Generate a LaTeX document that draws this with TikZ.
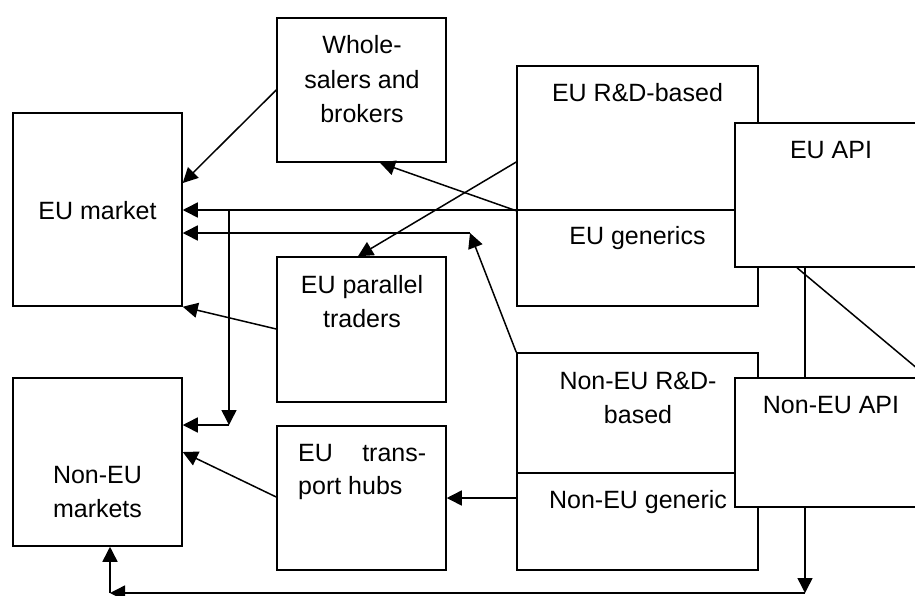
\documentclass[tikz,border=0pt]{standalone}
\usepackage{fontspec}
\setmainfont{Liberation Sans}
\usetikzlibrary{arrows.meta}
\begin{document}
\begin{tikzpicture}[x=1pt,y=-1pt,
  box/.style={draw, line width=1.5pt, inner sep=0pt, fill=white},
  lbl/.style={inner sep=0pt, anchor=base, font=\fontsize{25}{34}\selectfont},
  lblw/.style={lbl, anchor=base west},
  link/.style={line width=1.5pt},
  flow/.style={link, -{Triangle[length=15pt,width=15pt]}}]
\useasboundingbox (0,0) rectangle (915,595);
\clip (0,0) rectangle (915,595);

% markets and intermediaries
\node[box, minimum width=169pt, minimum height=193pt] (eumkt)  at (97.5,209.5) {};
\node[box, minimum width=169pt, minimum height=168pt] (nonmkt) at (97.5,462) {};
\node[box, minimum width=169pt, minimum height=144pt] (whole)  at (361.5,90) {};
\node[box, minimum width=169pt, minimum height=145pt] (par)    at (361.5,329.5) {};
\node[box, minimum width=169pt, minimum height=144pt] (hubs)   at (361.5,498) {};

% producers
\node[box, minimum width=241pt, minimum height=144pt] (eurd)   at (637.5,138) {};
\node[box, minimum width=241pt, minimum height=96pt]  (eugen)  at (637.5,258) {};
\node[box, minimum width=241pt, minimum height=120pt] (nonrd)  at (637.5,413) {};
\node[box, minimum width=241pt, minimum height=97pt]  (nongen) at (637.5,521.5) {};

% API suppliers, overlapping the producer boxes
\node[box, minimum width=192pt, minimum height=144pt] (euapi)  at (831,195) {};
\node[box, minimum width=192pt, minimum height=129pt] (nonapi) at (831,442.5) {};

% routing points
\coordinate (bend)   at (470,233);
\coordinate (split)  at (229,210);
\coordinate (drop)   at (229,425);
\coordinate (low)    at (805,593);
\coordinate (corner) at (110,593);

% flows
\draw[flow] (euapi.west |- 0,210) -- (eumkt.east |- 0,210);
\draw[flow] (whole.west) -- (eumkt.east |- 0,183);
\draw[flow] (eurd.south west) -- (whole.south -| 380,0);
\draw[flow] (eurd.west |- 0,162) -- (par.north -| 358,0);
\draw[flow] (nonrd.north west) -- (bend);
\draw[flow] (bend) -- (eumkt.east |- bend);
\draw[flow] (split) -- (drop);
\draw[flow] (drop) -- (nonmkt.east |- drop);
\draw[flow] (par.west |- 0,329) -- (eumkt.south east);
\draw[flow] (hubs.west |- 0,497) -- (nonmkt.east |- 0,452);
\draw[flow] (nongen.west |- 0,498) -- (hubs.east |- 0,498);
\draw[link] (euapi.south -| 805,0) -- (nonapi.north -| 805,0);
\draw[link] (euapi.south -| 797,0) -- (nonapi.north east);
\draw[flow] (nonapi.south -| low) -- (low);
\draw[flow] (low) -- (corner);
\draw[flow] (corner) -- (nonmkt.south -| corner);

% labels
\node[lbl] (teumkt) at (97.5,219) {EU market};
\node[lbl] (twhole1) at (362,53) {Whole-};
\node[lbl] (twhole2) at (362,88) {salers and};
\node[lbl] (twhole3) at (362,122) {brokers};
\node[lbl] (tpar1) at (362,293) {EU parallel};
\node[lbl] (tpar2) at (362,327) {traders};
\node[lbl] (teurd) at (637.5,101) {EU R\&D-based};
\node[lbl] (teuapi) at (831,158) {EU API};
\node[lbl] (teugen) at (637.5,244) {EU generics};
\node[lbl] (tnonrd1) at (638,389) {Non-EU R\&D-};
\node[lbl] (tnonrd2) at (638,423) {based};
\node[lbl] (tnonapi) at (831,413) {Non-EU API};
\node[lbl] (tnongen) at (638,508) {Non-EU generic};
\node[lbl] (tnonmkt1) at (97.5,483) {Non-EU};
\node[lbl] (tnonmkt2) at (97.5,517) {markets};
\node[lblw] (thubs1) at (298,461) {\makebox[128pt][s]{EU trans-}};
\node[lblw] (thubs2) at (298,494) {port hubs};
\end{tikzpicture}
\end{document}
